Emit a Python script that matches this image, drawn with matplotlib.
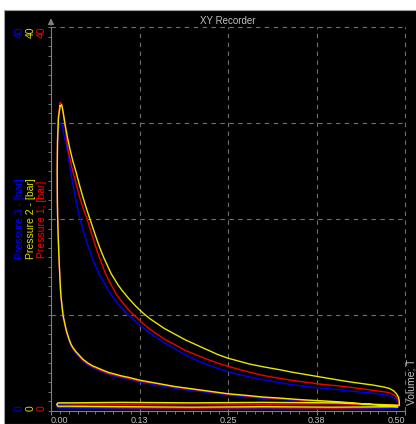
import matplotlib
matplotlib.use("Agg")
import matplotlib.pyplot as plt
from matplotlib.patches import Rectangle

plt.rcParams['font.family'] = ['Liberation Sans', 'DejaVu Sans']

# expansion stroke (peak -> right end) as (volume, pressure)
exp_2 = [(0.013, 31.8), (0.015, 31.9), (0.017, 31.2), (0.020, 29.8), (0.023, 28.6), (0.027, 27.2),
         (0.031, 26.0), (0.035, 25.0), (0.040, 23.6), (0.045, 22.3), (0.050, 21.1), (0.055, 20.0),
         (0.060, 18.9), (0.065, 17.8), (0.070, 16.8), (0.075, 15.9), (0.080, 15.1), (0.085, 14.3),
         (0.090, 13.7), (0.095, 13.1), (0.100, 12.6), (0.110, 11.7), (0.120, 10.9), (0.130, 10.2),
         (0.140, 9.6), (0.150, 9.1), (0.160, 8.6), (0.170, 8.2), (0.180, 7.8), (0.190, 7.4),
         (0.205, 6.9), (0.220, 6.4), (0.235, 5.9), (0.250, 5.5), (0.265, 5.2), (0.280, 4.9),
         (0.300, 4.6), (0.323, 4.3), (0.340, 4.05), (0.360, 3.8), (0.380, 3.55), (0.408, 3.2),
         (0.425, 3.0), (0.440, 2.85), (0.455, 2.7), (0.470, 2.5), (0.478, 2.35), (0.484, 2.1),
         (0.488, 1.8), (0.491, 1.4), (0.492, 1.0), (0.492, 0.6)]
exp_1 = [(0.013, 32.1), (0.015, 32.0), (0.017, 31.2), (0.020, 29.6), (0.022, 28.4), (0.024, 27.2),
         (0.027, 26.2), (0.030, 25.2), (0.035, 23.8), (0.040, 22.4), (0.045, 21.2), (0.051, 20.0),
         (0.056, 18.8), (0.061, 17.6), (0.066, 16.5), (0.071, 15.5), (0.076, 14.5), (0.081, 13.7),
         (0.086, 13.0), (0.092, 12.2), (0.100, 11.4), (0.110, 10.5), (0.120, 9.8), (0.130, 9.1),
         (0.140, 8.5), (0.150, 8.0), (0.160, 7.5), (0.170, 7.1), (0.180, 6.7), (0.190, 6.3),
         (0.205, 5.85), (0.220, 5.4), (0.235, 5.0), (0.250, 4.65), (0.265, 4.35), (0.280, 4.05),
         (0.300, 3.7), (0.323, 3.4), (0.340, 3.2), (0.360, 3.0), (0.380, 2.8), (0.408, 2.6),
         (0.425, 2.45), (0.440, 2.3), (0.455, 2.15), (0.470, 2.0), (0.478, 1.9), (0.484, 1.7),
         (0.488, 1.45), (0.491, 1.1), (0.492, 0.6)]
exp_3 = [(0.013, 30.0), (0.015, 30.0), (0.017, 29.3), (0.019, 28.5), (0.021, 27.9), (0.023, 27.2),
         (0.026, 25.7), (0.030, 24.0), (0.035, 22.0), (0.041, 20.0), (0.046, 18.7), (0.051, 17.5),
         (0.056, 16.4), (0.061, 15.4), (0.067, 14.4), (0.073, 13.6), (0.080, 12.7), (0.087, 11.9),
         (0.095, 11.1), (0.105, 10.3), (0.115, 9.6), (0.126, 8.9), (0.138, 8.2), (0.150, 7.6),
         (0.160, 7.1), (0.170, 6.7), (0.180, 6.25), (0.190, 5.85), (0.205, 5.3), (0.220, 4.85),
         (0.235, 4.45), (0.250, 4.1), (0.265, 3.8), (0.280, 3.55), (0.300, 3.25), (0.323, 2.95),
         (0.340, 2.75), (0.360, 2.55), (0.380, 2.4), (0.408, 2.2), (0.425, 2.05), (0.440, 1.95),
         (0.455, 1.85), (0.470, 1.7), (0.478, 1.6), (0.484, 1.4), (0.488, 1.15), (0.491, 0.85),
         (0.492, 0.5)]

# exhaust + intake strokes along the bottom
low_vol = [0.40, 0.30, 0.20, 0.10, 0.03, 0.010, 0.008, 0.010, 0.03, 0.10, 0.20, 0.30, 0.40, 0.49]
low_pres_2 = [0.85, 0.9, 0.85, 0.9, 0.85, 0.85, 0.7, 0.5, 0.5, 0.45, 0.4, 0.45, 0.4, 0.45]
low_pres_1 = [0.75, 0.7, 0.75, 0.7, 0.75, 0.8, 0.6, 0.4, 0.4, 0.35, 0.3, 0.35, 0.3, 0.4]
low_pres_3 = [0.6, 0.55, 0.6, 0.55, 0.6, 0.65, 0.5, 0.3, 0.3, 0.25, 0.2, 0.25, 0.2, 0.3]

# compression stroke (right end -> peak)
comp_vol = [0.47, 0.45, 0.43, 0.408, 0.385, 0.36, 0.34, 0.323, 0.30, 0.28, 0.265, 0.25, 0.235,
            0.22, 0.205, 0.19, 0.175, 0.16, 0.145, 0.126, 0.11, 0.10, 0.09, 0.082, 0.075, 0.067,
            0.059, 0.052, 0.045, 0.040, 0.035, 0.031, 0.028, 0.025, 0.022, 0.0195, 0.017, 0.0155,
            0.014, 0.0132, 0.0125, 0.0117, 0.011, 0.0104, 0.0098, 0.0093, 0.009, 0.0088, 0.0092,
            0.0105, 0.013]
comp_pres_2 = [0.55, 0.7, 0.82, 0.95, 1.05, 1.15, 1.25, 1.35, 1.45, 1.6, 1.7, 1.8, 1.95, 2.1,
               2.25, 2.4, 2.55, 2.75, 2.95, 3.2, 3.5, 3.65, 3.85, 4.0, 4.2, 4.45, 4.7, 5.0, 5.4,
               5.8, 6.2, 6.6, 7.0, 7.6, 8.3, 9.1, 10.0, 11.0, 12.0, 13.0, 14.0, 15.3, 16.5, 17.8,
               19.0, 20.5, 22.0, 25.0, 28.0, 30.5, 31.8]
comp_pres_1 = [0.5, 0.65, 0.77, 0.9, 1.0, 1.1, 1.2, 1.3, 1.4, 1.55, 1.65, 1.75, 1.9, 2.05, 2.2,
               2.35, 2.5, 2.7, 2.9, 3.1, 3.4, 3.55, 3.75, 3.9, 4.1, 4.35, 4.6, 4.9, 5.3, 5.7, 6.1,
               6.5, 6.9, 7.5, 8.2, 9.0, 9.9, 10.9, 11.9, 12.9, 13.9, 15.2, 16.4, 17.7, 19.0, 20.5,
               22.0, 25.2, 28.5, 31.0, 32.1]
comp_pres_3 = [0.4, 0.55, 0.67, 0.8, 0.9, 1.0, 1.1, 1.2, 1.3, 1.45, 1.55, 1.65, 1.8, 1.95, 2.05,
               2.2, 2.35, 2.55, 2.75, 3.0, 3.3, 3.45, 3.6, 3.8, 4.0, 4.25, 4.5, 4.8, 5.2, 5.6, 6.0,
               6.4, 6.8, 7.4, 8.1, 8.9, 9.8, 10.8, 11.8, 12.8, 13.8, 15.0, 16.2, 17.5, 18.8, 20.2,
               21.5, 24.5, 27.2, 29.3, 30.0]

x_ticks = [0.0, 0.125, 0.25, 0.375, 0.5]
x_tick_labels = ["0.00", "0.13", "0.25", "0.38", "0.50"]
y_grid = [10, 20, 30, 40]

W, H = 416, 424
fig = plt.figure(figsize=(W / 100, H / 100), dpi=100, facecolor='white')
bg = Rectangle((4 / W, 0), 1, (H - 10) / H, transform=fig.transFigure,
               facecolor='black', edgecolor='#a0a0a0', lw=0.8)
bg.set_zorder(-10)
fig.patches.append(bg)

ax = fig.add_axes([51 / W, (H - 411) / H, 354 / W, 384 / H])
ax.set_facecolor('black')
ax.set_xlim(0, 0.5)
ax.set_ylim(0, 40)

for v in x_ticks[1:]:
    ax.axvline(v, color='#707070', ls=(0, (4, 4)), lw=0.8, zorder=1, clip_on=False)
for p in y_grid:
    ax.axhline(p, color='#707070', ls=(0, (4, 4)), lw=0.8, zorder=1, clip_on=False)

series = [
    (exp_3, low_pres_3, comp_pres_3, '#0000ee'),
    (exp_1, low_pres_1, comp_pres_1, '#ee0000'),
    (exp_2, low_pres_2, comp_pres_2, '#e8e800'),
]
for z, (ex, lp, cp, col) in enumerate(series):
    vv = [v for v, p in ex] + low_vol + comp_vol
    pp = [p for v, p in ex] + lp + cp
    ax.plot(vv, pp, color=col, lw=1.0, zorder=3 + z, solid_joinstyle='round')

for s in ['top', 'right']:
    ax.spines[s].set_visible(False)
for s in ['left', 'bottom']:
    ax.spines[s].set_color('#808080')
    ax.spines[s].set_linewidth(0.8)

ax.set_xticks(x_ticks)
ax.set_xticklabels(x_tick_labels)
labs = ax.get_xticklabels()
labs[0].set_ha('left')
labs[-1].set_ha('right')
ax.set_xticks([i * 0.0125 for i in range(41)], minor=True)
ax.set_yticks([])
ax.set_yticks(range(41), minor=True)
ax.tick_params(axis='x', which='major', colors='#808080', labelcolor='#c0c0c0',
               labelsize=6.5, length=3, pad=0.5)
ax.tick_params(axis='both', which='minor', colors='#808080', length=2.5)

# arrow at top of y axis
ax.annotate('', xy=(0, 41.2), xytext=(0, 39.9),
            arrowprops=dict(arrowstyle='-|>', color='#808080', lw=0.8, mutation_scale=9),
            annotation_clip=False)

ax.text(0.5, 1.003, "XY Recorder", transform=ax.transAxes, ha='center', va='bottom',
        color='#c0c0c0', fontsize=7)
ax.text(1.004, 0.015, "Volume; T", transform=ax.transAxes, ha='left', va='bottom',
        rotation=90, color='#c0c0c0', fontsize=7.5)

label_info = [("Pressure 3 - [bar]", '#0000ff', 20),
              ("Pressure 2 - [bar]", '#e0e000', 31),
              ("Pressure 1; [bar]", '#ff0000', 42)]
for txt, col, px in label_info:
    fig.text(px / W, (H - 219) / H, txt, color=col, rotation=90, ha='center', va='center', fontsize=7.5)
    fig.text(px / W, (H - 27) / H, "40", color=col, rotation=90, ha='center', va='top', fontsize=7.5)
    fig.text(px / W, (H - 411) / H, "0", color=col, rotation=90, ha='center', va='bottom', fontsize=7.5)

fig.savefig("out.png", dpi=100, facecolor='white')
